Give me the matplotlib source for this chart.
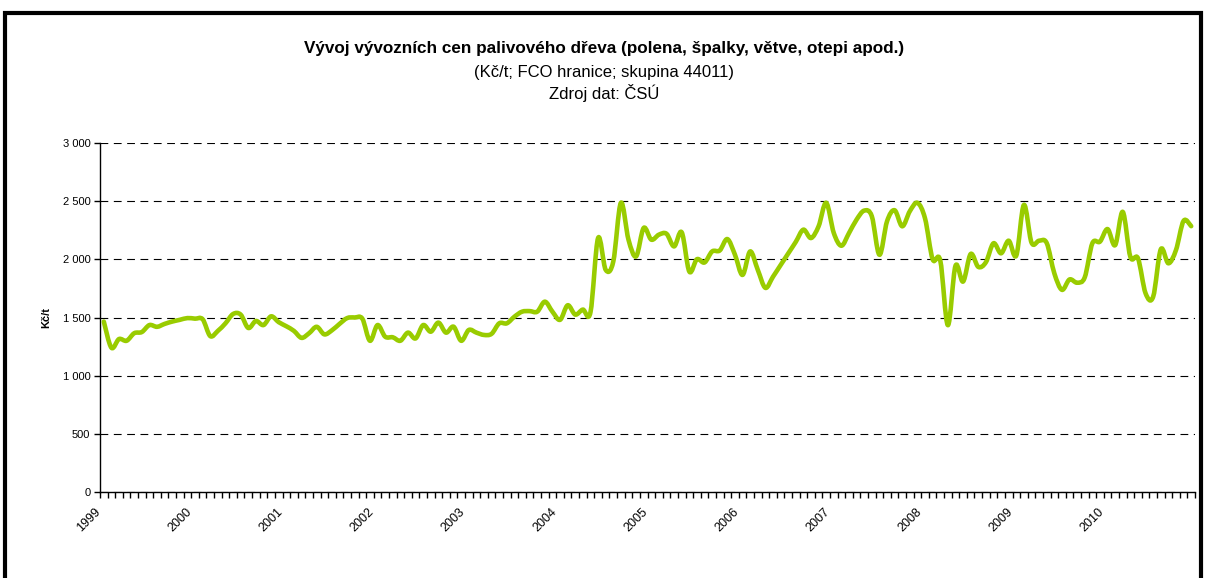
import matplotlib
matplotlib.use("Agg")
import matplotlib.pyplot as plt
from matplotlib.path import Path
from matplotlib.patches import PathPatch, Rectangle
from matplotlib.transforms import ScaledTranslation

# monthly export prices, Jan 1999 - Dec 2010 (Kč/t)
years = [str(y) for y in range(1999, 2011)]
p1999 = [1465, 1240, 1315, 1300, 1365, 1375, 1435, 1420, 1445, 1465, 1480, 1495]
p2000 = [1490, 1485, 1340, 1385, 1450, 1530, 1525, 1410, 1470, 1435, 1510, 1460]
p2001 = [1425, 1385, 1325, 1365, 1420, 1355, 1390, 1445, 1495, 1500, 1490, 1300]
p2002 = [1435, 1335, 1330, 1300, 1370, 1320, 1435, 1378, 1456, 1370, 1421, 1300]
p2003 = [1393, 1370, 1350, 1360, 1450, 1450, 1507, 1550, 1555, 1550, 1636, 1550]
p2004 = [1480, 1605, 1525, 1568, 1545, 2183, 1910, 1981, 2486, 2169, 2025, 2270]
p2005 = [2169, 2212, 2220, 2111, 2232, 1895, 2001, 1973, 2068, 2076, 2174, 2040]
p2006 = [1866, 2068, 1910, 1755, 1850, 1950, 2050, 2150, 2255, 2183, 2284, 2486]
p2007 = [2226, 2117, 2226, 2342, 2419, 2370, 2039, 2327, 2422, 2284, 2414, 2486]
p2008 = [2351, 2000, 1990, 1434, 1944, 1809, 2046, 1935, 1975, 2138, 2052, 2160]
p2009 = [2033, 2468, 2144, 2160, 2140, 1880, 1738, 1827, 1799, 1845, 2138, 2152]
p2010 = [2260, 2122, 2408, 2021, 2009, 1708, 1679, 2086, 1966, 2080, 2331, 2285]
prices = (p1999 + p2000 + p2001 + p2002 + p2003 + p2004 + p2005 + p2006
          + p2007 + p2008 + p2009 + p2010)

plt.rcParams['font.family'] = ['Liberation Sans', 'DejaVu Sans']

W, H = 1205, 578
fig = plt.figure(figsize=(W / 100, H / 100), dpi=100)
ax = fig.add_axes([100 / W, 1 - 492 / H, 1095 / W, 349 / H])


def smooth_path(x, y):
    """Excel-style smoothed line: cubic Bezier through every point."""
    n = len(x)
    verts = [(x[0], y[0])]
    codes = [Path.MOVETO]
    for i in range(n - 1):
        a = max(i - 1, 0)
        b = min(i + 2, n - 1)
        c1 = (x[i] + (x[i + 1] - x[a]) / 6, y[i] + (y[i + 1] - y[a]) / 6)
        c2 = (x[i + 1] - (x[b] - x[i]) / 6, y[i + 1] - (y[b] - y[i]) / 6)
        verts += [c1, c2, (x[i + 1], y[i + 1])]
        codes += [Path.CURVE4] * 3
    return Path(verts, codes)


months = list(range(len(prices)))
ax.add_patch(PathPatch(smooth_path(months, prices), fill=False,
                       edgecolor='#99CC00', lw=3.3, capstyle='round',
                       joinstyle='round', zorder=3))

ax.set_xlim(-0.5, len(prices) - 0.5)
ax.set_ylim(0, 3000)

# axes look
for s in ['top', 'right']:
    ax.spines[s].set_visible(False)
for s in ['left', 'bottom']:
    ax.spines[s].set_linewidth(1.0)
    ax.spines[s].set_color('black')

yt = list(range(0, 3001, 500))
ax.set_yticks(yt)
ax.set_yticklabels([f"{v:,}".replace(",", " ") for v in yt], fontsize=8)
ax.yaxis.grid(True, linestyle=(0, (7, 5)), color='black', lw=0.8)
ax.set_axisbelow(True)

ax.set_xticks([12 * k - 0.5 for k in range(len(years))])
ax.set_xticklabels(years, fontsize=9, rotation=45, ha='right', va='top',
                   rotation_mode='anchor')
ax.set_xticks([i - 0.5 for i in range(len(prices) + 1)], minor=True)
ax.tick_params(axis='both', which='both', direction='out', length=4,
               width=1, color='black', pad=3)
ax.tick_params(axis='x', which='major', pad=6)
shift = ScaledTranslation(-6 / 100, 0, fig.dpi_scale_trans)
for lab in ax.get_xticklabels():
    lab.set_transform(lab.get_transform() + shift)

ax.set_ylabel('Kč/t', fontsize=8, fontweight='bold', labelpad=8)

fig.text(0.501, 1 - 48 / H, 'Vývoj vývozních cen palivového dřeva (polena, špalky, větve, otepi apod.)',
         ha='center', va='center', fontsize=12.3, fontweight='bold')
fig.text(0.501, 1 - 72.5 / H, '(Kč/t; FCO hranice; skupina 44011)',
         ha='center', va='center', fontsize=12)
fig.text(0.501, 1 - 92.5 / H, 'Zdroj dat: ČSÚ',
         ha='center', va='center', fontsize=12)

# outer chart frame
fig.add_artist(Rectangle((5 / W, -0.05), (1201 - 5) / W, 1.05 - 12.5 / H,
                         transform=fig.transFigure, fill=False,
                         edgecolor='black', lw=3))

fig.savefig('out.png', dpi=100)
